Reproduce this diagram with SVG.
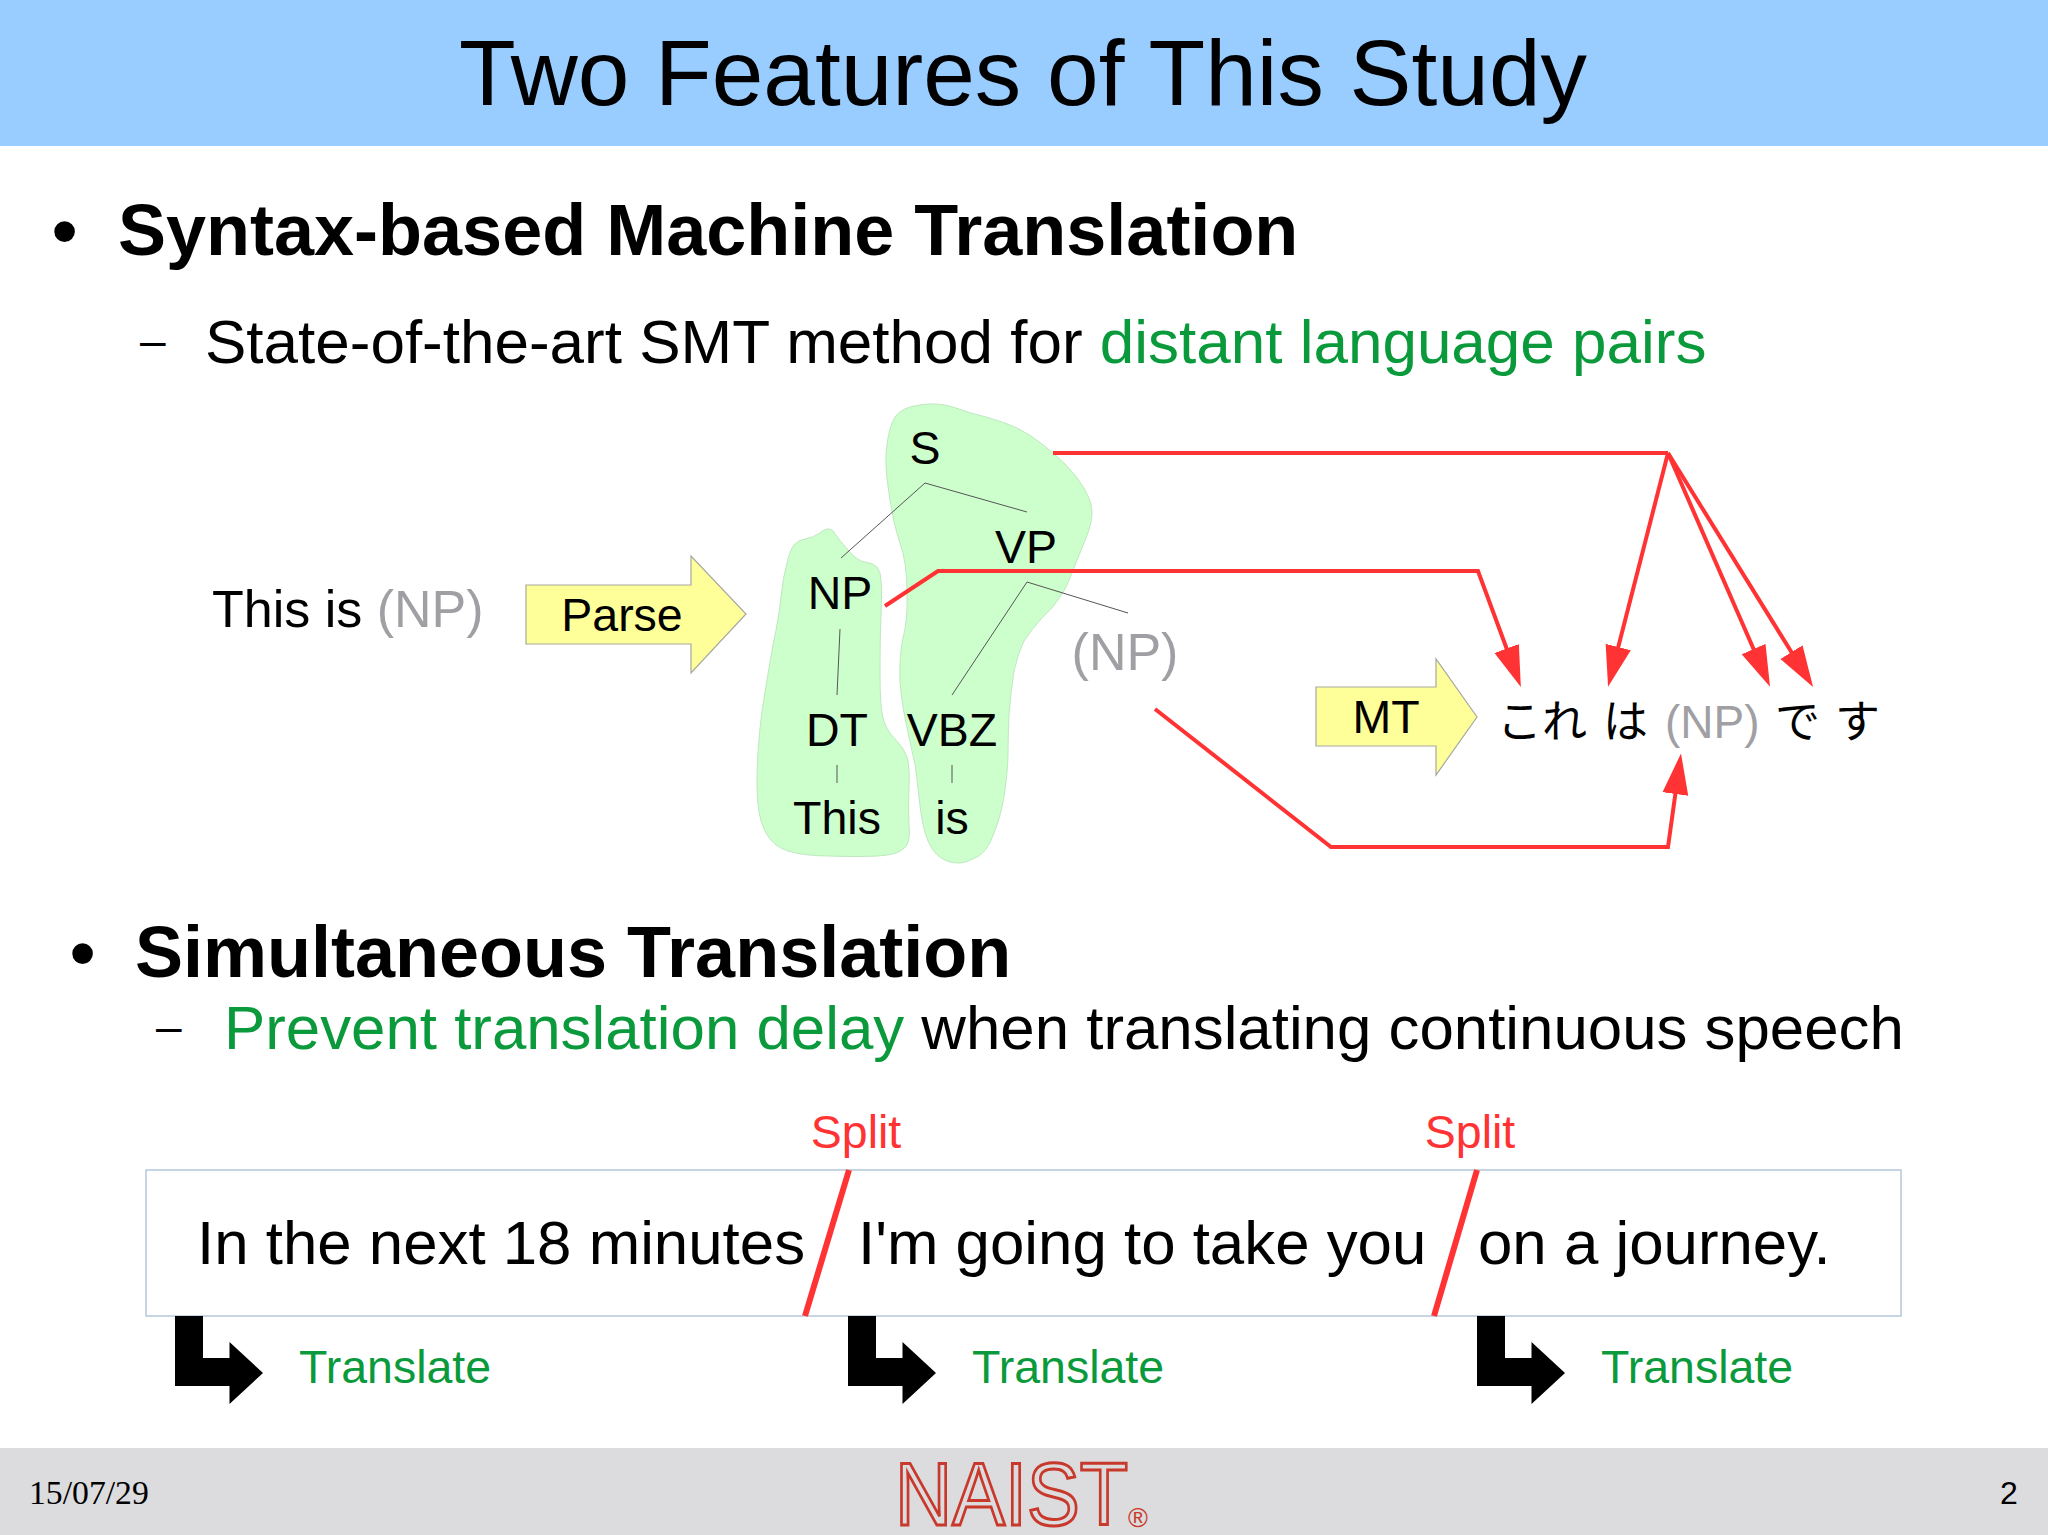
<svg xmlns="http://www.w3.org/2000/svg" width="2048" height="1535" viewBox="0 0 2048 1535">
<style>
text{font-family:"Liberation Sans",Arial,sans-serif;fill:#000}
.c{text-anchor:middle}
.h1{font-size:72px;font-weight:700}
.h2{font-size:62px}
.h3{font-size:61.800px}
.d{font-size:46px}
.t{font-size:46.500px}
.s{font-size:61.800px}
.g{fill:#0a9a3c}
.n{fill:#a09fa3}
.r{fill:#ff3333}
.j{font-size:45px;font-weight:400;font-family:"Noto Sans CJK JP","Liberation Sans",sans-serif}
.blob{fill:#ccffcc;stroke:#bfe8bf;stroke-width:1}
.blk{fill:#ffff99;stroke:#a8a8a0;stroke-width:1.2}
.tree{stroke:#555;stroke-width:1;fill:none}
.red{stroke:#ff3333;stroke-width:4;fill:none;stroke-linejoin:miter}
.arr{marker-end:url(#ah)}
.slash{stroke:#ff3333;stroke-width:6}
.bent{fill:#000}
</style>
<defs>
<marker id="ah" markerUnits="userSpaceOnUse" markerWidth="42" markerHeight="28" refX="1" refY="14" orient="auto"><path d="M0 1L41 14L0 27z" fill="#ff3333"/></marker>
</defs>
<rect width="2048" height="1535" fill="#fff"/>
<rect id="header" width="2048" height="146" fill="#99ccff"/>
<rect id="footer" y="1448" width="2048" height="87" fill="#dcdbdd"/>
<text id="title" class="c" x="1023" y="105" font-size="92.800">Two Features of This Study</text>

<text x="52" y="255" class="h1">•</text>
<text x="118" y="255" class="h1">Syntax-based Machine Translation</text>
<text x="140" y="356" class="d">–</text>
<text x="205" y="363" class="h2">State-of-the-art SMT method for <tspan class="g">distant language pairs</tspan></text>

<g id="blob-left"><path class="blob" d="M805 539Q812 538 820 533Q827 526 833 531Q839 540 848 550Q857 561 865 562Q873 563 877 567Q881 572 881 581Q882 590 881 615Q880 640 880 673Q880 707 883 718Q886 730 895 739Q904 748 907 757Q910 767 909 787Q908 807 909 825Q911 845 903 849Q897 855 877 856Q857 857 830 856Q804 856 788 851Q772 846 765 831Q757 817 757 783Q757 750 762 711Q768 673 773 645Q779 617 781 597Q783 577 787 563Q790 550 794 545Q798 540 805 539Z"/></g>
<g id="blob-right"><path class="blob" d="M920 405Q937 402 953 407Q969 413 986 417Q1004 422 1017 428Q1031 435 1042 444Q1054 453 1065 464Q1076 475 1084 488Q1092 502 1092 512Q1092 523 1086 538Q1080 553 1073 570Q1067 587 1060 597Q1054 607 1042 618Q1031 630 1024 641Q1018 653 1014 671Q1011 690 1009 715Q1008 740 1008 753Q1008 767 1005 790Q1002 813 994 833Q987 854 973 859Q960 866 947 861Q935 857 928 841Q922 827 919 797Q917 767 909 737Q902 707 900 682Q899 657 903 638Q908 620 907 591Q907 563 900 543Q893 523 889 493Q884 463 887 445Q889 427 895 417Q902 407 920 405Z"/></g>

<g id="tree-lines">
<path class="tree" d="M841 558L925 483L1027 512M840 629L837 695M837 765V783M1027 582L952 695M1027 582L1128 613M952 765V783"/>
</g>

<g id="tree-labels">
<text class="t c" x="925" y="464">S</text>
<text class="t c" x="1026" y="563">VP</text>
<text class="t c" x="840" y="609">NP</text>
<text class="c n" x="1125" y="670" font-size="52">(NP)</text>
<text class="t c" x="837" y="746">DT</text>
<text class="t c" x="952" y="746">VBZ</text>
<text class="t c" x="837" y="834">This</text>
<text class="t c" x="952" y="834">is</text>
</g>

<text id="source" x="212" y="627" font-size="52">This is <tspan class="n">(NP)</tspan></text>

<g id="parse"><path class="blk" d="M526 585H691V556L746 614L691 673V644H526Z"/><text class="t c" x="622" y="631">Parse</text></g>
<g id="mt"><path class="blk" d="M1316 687H1436V659L1477 717L1436 775V746H1316Z"/><text class="t c" x="1386" y="733">MT</text></g>

<g id="connectors">
<path class="red" d="M1053 453H1668"/>
<path class="red arr" d="M1668 453L1618 648"/>
<path class="red arr" d="M1668 453L1754 650"/>
<path class="red arr" d="M1668 453L1792 653"/>
<path class="red arr" d="M885 606L938 571H1478L1507 649.500"/>
<path class="red arr" d="M1155 709L1331 847H1668L1675.500 793"/>
</g>

<g id="target">
<text class="j" x="1497" y="738">これ</text>
<text class="j" x="1603" y="738">は</text>
<text class="n" x="1665" y="738" font-size="46">(NP)</text>
<text class="j" x="1775" y="738">で</text>
<text class="j" x="1835" y="738">す</text>
</g>

<text x="70" y="977" class="h1">•</text>
<text x="135" y="977" class="h1">Simultaneous Translation</text>
<text x="156" y="1042" class="d">–</text>
<text x="224" y="1049" class="h3"><tspan class="g">Prevent translation delay</tspan> when translating continuous speech</text>

<g id="sentence">
<rect x="146" y="1170" width="1755" height="146" fill="#fff" stroke="#b4c7dc" stroke-width="1.500"/>
<text class="s" x="197" y="1264">In the next 18 minutes</text>
<text class="s" x="858" y="1264">I'm going to take you</text>
<text class="s" x="1478" y="1264">on a journey.</text>
</g>
<g id="splits">
<path class="slash" d="M849 1170L805 1316M1477 1170L1434 1316"/>
<text class="t c r" x="856" y="1148">Split</text>
<text class="t c r" x="1470" y="1148">Split</text>
</g>
<g id="translate-1"><path class="bent" d="M175 1316H203V1358H229.500V1342L263 1373L229.500 1404V1386H175Z"/><text class="t g" x="299" y="1383">Translate</text></g>
<g id="translate-2"><path class="bent" d="M848 1316H876V1358H902.500V1342L936 1373L902.500 1404V1386H848Z"/><text class="t g" x="972" y="1383">Translate</text></g>
<g id="translate-3"><path class="bent" d="M1477 1316H1505V1358H1531.500V1342L1565 1373L1531.500 1404V1386H1477Z"/><text class="t g" x="1601" y="1383">Translate</text></g>

<text id="date" x="29" y="1504" font-size="33.700" style="font-family:'Liberation Serif',serif">15/07/29</text>
<text id="page" x="2000" y="1504" font-size="32">2</text>
<g id="logo">
<text x="895" y="1525" font-size="89" textLength="233" lengthAdjust="spacingAndGlyphs" style="fill:#dcdbdd;stroke:#c8392b;stroke-width:3">NAIST</text>
<text x="1128" y="1527" font-size="27" style="fill:#c8392b">®</text>
</g>
</svg>
